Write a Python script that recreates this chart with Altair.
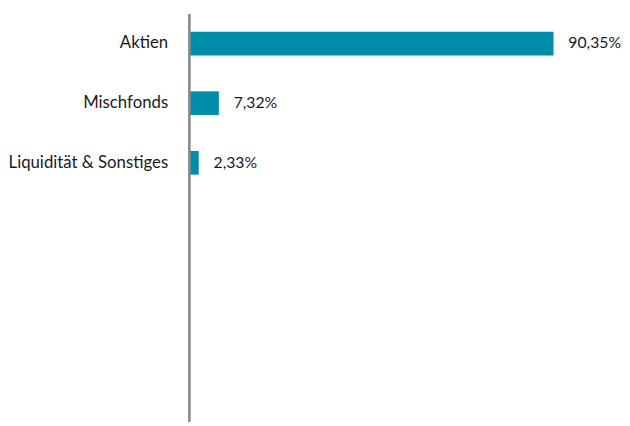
import altair as alt
import pandas as pd

categories = ["Aktien", "Mischfonds", "Liquidität & Sonstiges"]
values = [90.35, 7.32, 2.33]
labels = [f"{v:.2f}".replace(".", ",") + "%" for v in values]

df = pd.DataFrame({"cat": categories, "val": values, "label": labels})

FONT = "Lato"
FS = 17
y_enc = alt.Y(
    "cat:N",
    sort=categories,
    title=None,
    scale=alt.Scale(paddingInner=0.603, paddingOuter=0, range=[18, 163]),
    axis=alt.Axis(
        ticks=False,
        domain=False,
        labelFont=FONT,
        labelFontSize=FS,
        labelColor="#1a1a1a",
        labelPadding=22,
        grid=False,
    ),
)

bars = alt.Chart(df).mark_bar(color="#008DA9").encode(
    y=y_enc,
    x=alt.X("val:Q", scale=alt.Scale(domain=[0, 100]), axis=None),
)

text = alt.Chart(df).mark_text(
    align="left", baseline="middle", dx=15, font=FONT, fontSize=16, color="#1a1a1a"
).encode(
    y=alt.Y("cat:N", sort=categories),
    x=alt.X("val:Q"),
    text="label:N",
)

axis_line = alt.Chart(df).mark_rule(color="#8c8c8c", strokeWidth=2).encode(
    x=alt.value(0), y=alt.value(0), y2=alt.value(414)
)

chart = (
    (bars + text + axis_line)
    .properties(width=409, height=414, background="white",
                padding={"left": 0, "top": 2, "right": 0, "bottom": 0})
    .configure_view(stroke=None, strokeWidth=0)
)

chart.save("out.html", embed_options={"renderer": "svg", "actions": False})
